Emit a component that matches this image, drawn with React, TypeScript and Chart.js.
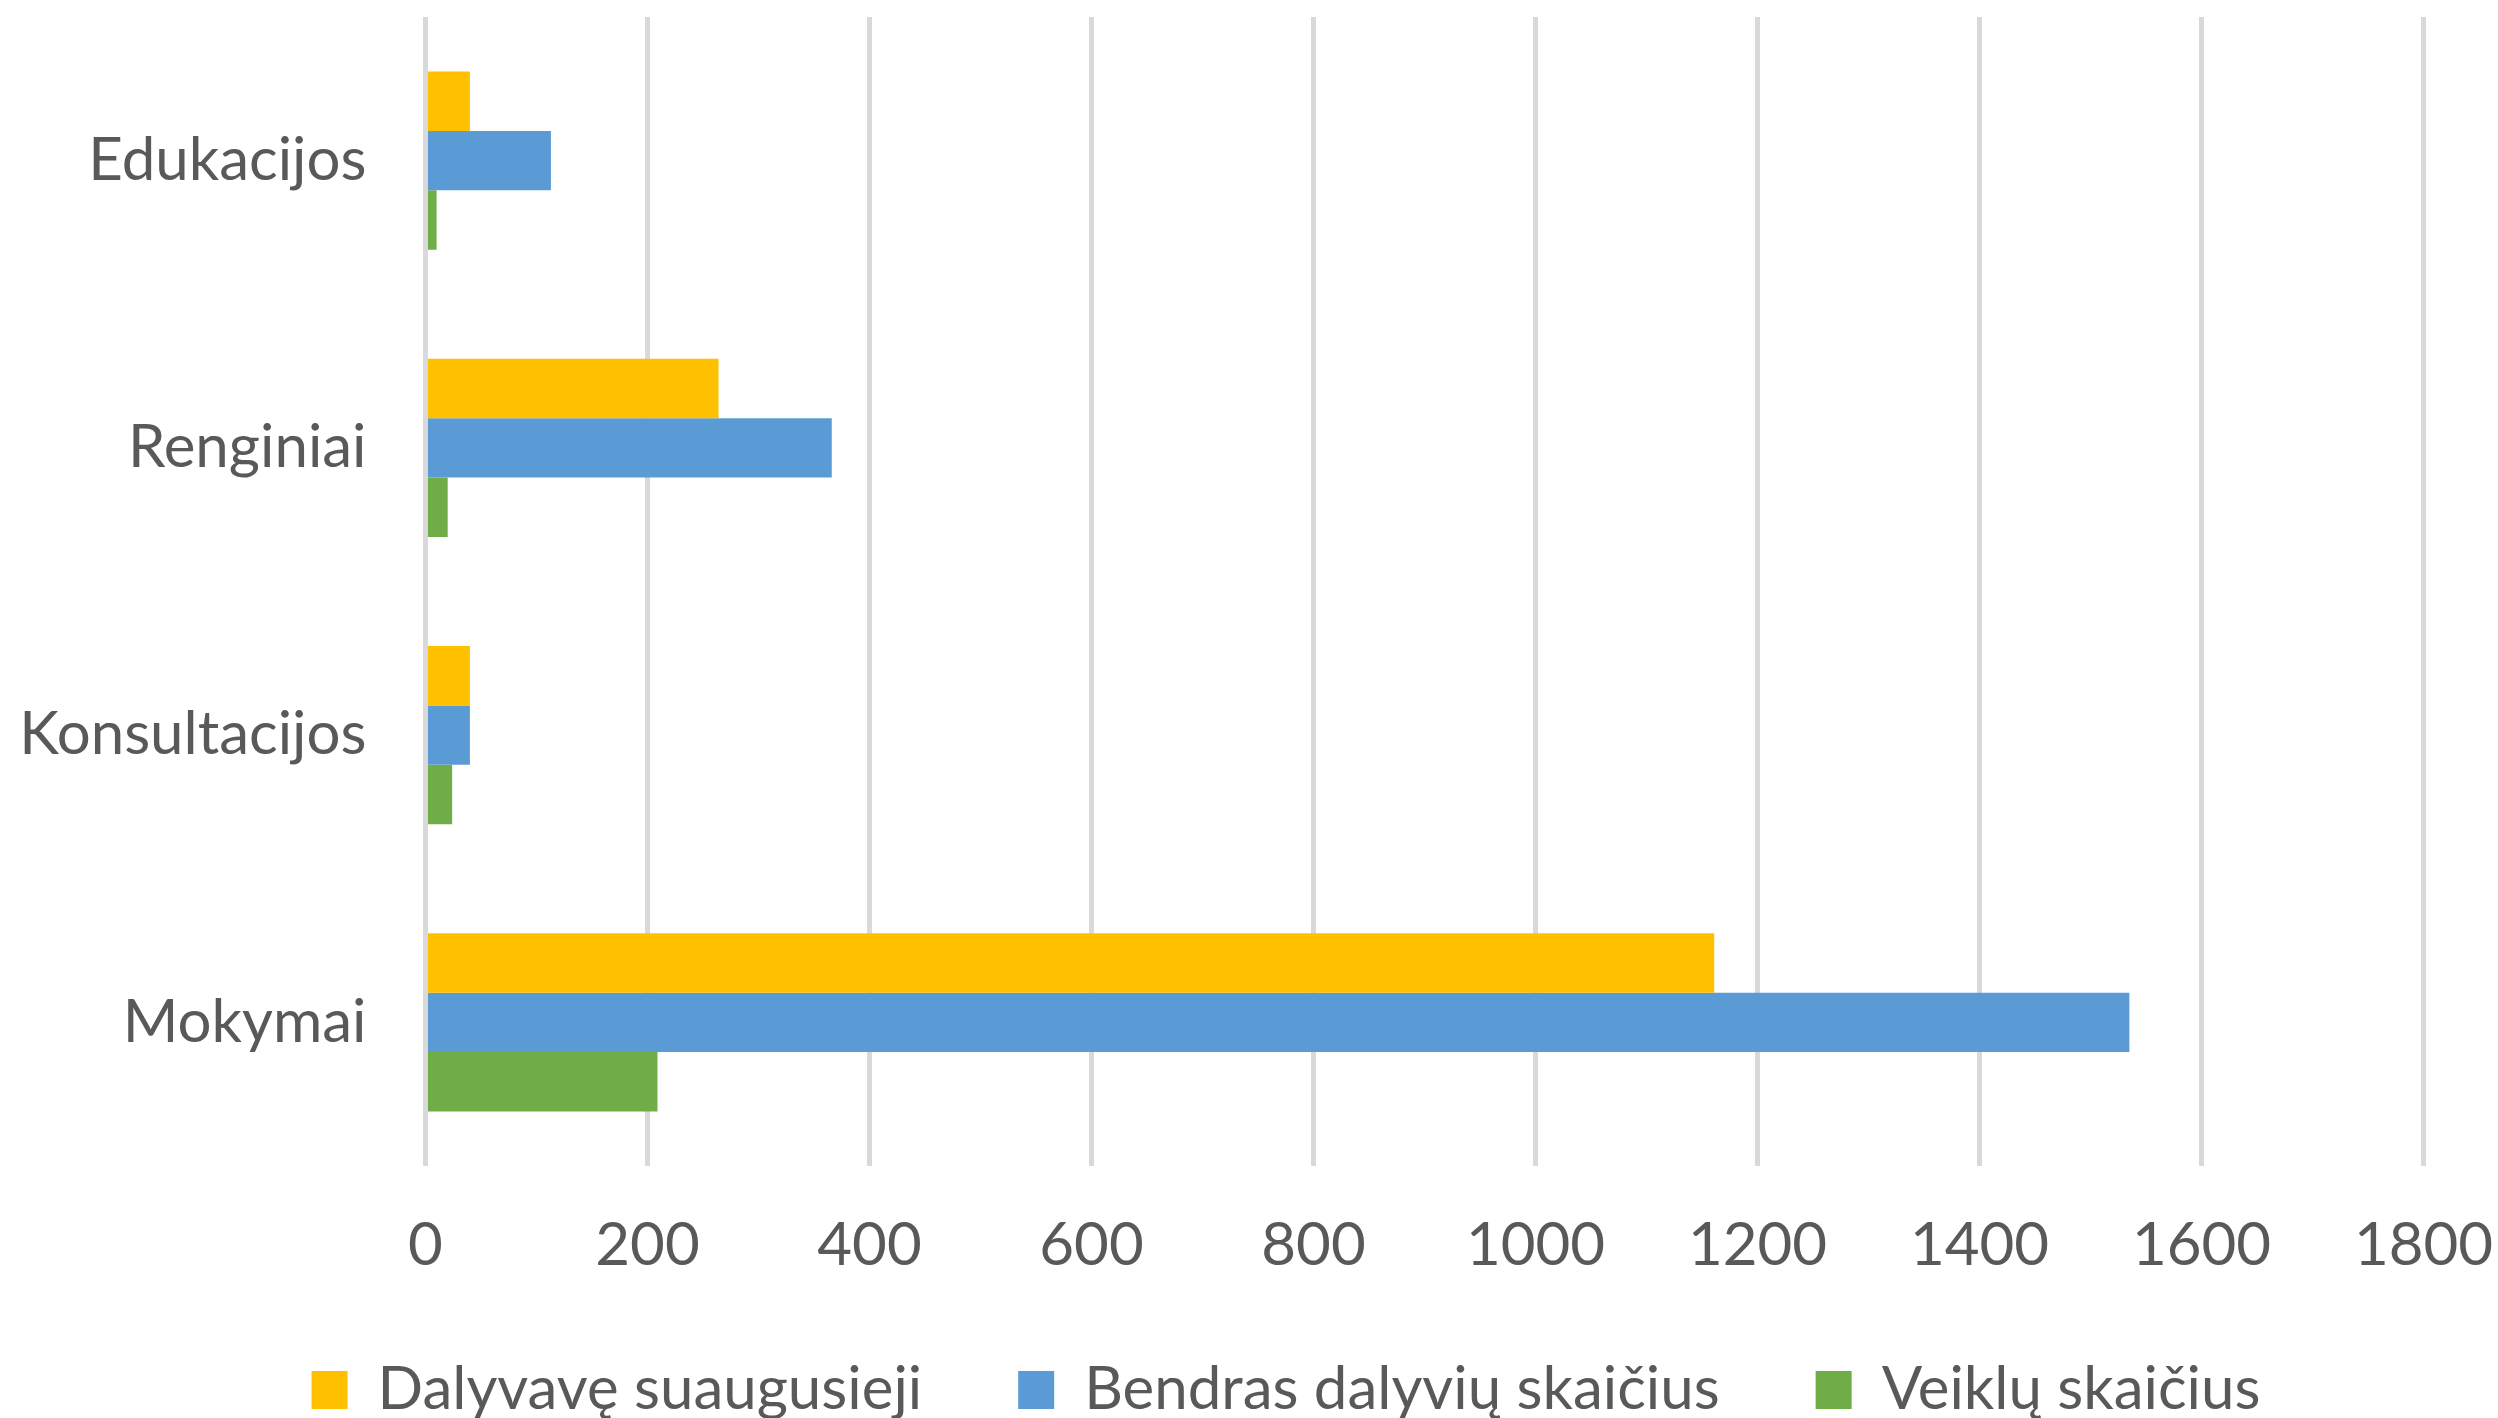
import React, { useEffect, useRef } from "react";
import { Chart, registerables } from "chart.js";

Chart.register(...registerables);

const categories = ["Edukacijos", "Renginiai", "Konsultacijos", "Mokymai"];
const seriesNames = ["Dalyvavę suaugusieji", "Bendras dalyvių skaičius", "Veiklų skaičius"];
const dalyvaveSuaugusieji = [40, 264, 40, 1161];
const bendrasDalyviuSkaicius = [113, 366, 40, 1535];
const veikluSkaicius = [10, 20, 24, 209];
const seriesColors = ["#FFC000", "#5B9BD5", "#70AD47"];
const xMin = 0;
const xMax = 1800;
const xStep = 200;

const TEXT = "#595959";
const FONT = "Lato";
const LEGEND_PAD = 96;

// Place the bottom legend like the original (centred under the whole figure, text at ~y=1390)
const legendPlacement = {
  id: "legendPlacement",
  afterLayout(chart: any) {
    const lg = chart.legend;
    if (!lg) return;
    lg.left = 148.5;
    lg.right = 2423.5;
    lg.width = lg.right - lg.left;
    lg.top = 1360 - LEGEND_PAD;
    lg.bottom = 1418;
    lg.height = lg.bottom - lg.top;
  },
};

export default function App() {
  const ref = useRef<HTMLCanvasElement | null>(null);

  useEffect(() => {
    const canvas = ref.current;
    if (!canvas) return;
    const values = [dalyvaveSuaugusieji, bendrasDalyviuSkaicius, veikluSkaicius];
    const chart = new Chart(canvas, {
      type: "bar",
      data: {
        labels: categories,
        datasets: seriesNames.map((name, i) => ({
          label: name,
          data: values[i],
          backgroundColor: seriesColors[i],
          borderWidth: 0,
          categoryPercentage: 0.62,
          barPercentage: 1,
        })),
      },
      plugins: [legendPlacement],
      options: {
        indexAxis: "y",
        responsive: false,
        animation: false,
        devicePixelRatio: 1,
        layout: { padding: { left: 0, right: 74.5, top: 17, bottom: 0 } },
        plugins: {
          tooltip: { enabled: false },
          title: { display: false },
          legend: {
            position: "bottom",
            align: "center",
            maxHeight: 136,
            labels: {
              boxWidth: 36,
              boxHeight: 38,
              padding: LEGEND_PAD,
              color: TEXT,
              font: { family: FONT, size: 60 },
            },
          },
        },
        scales: {
          x: {
            type: "linear",
            min: xMin,
            max: xMax,
            ticks: {
              stepSize: xStep,
              color: TEXT,
              padding: 44,
              font: { family: FONT, size: 60 },
              callback: (v: any) => String(v),
            },
            grid: { color: "#D9D9D9", lineWidth: 5, drawTicks: false },
            border: { display: false },
            afterFit: (scale: any) => {
              scale.height = 116;
              scale.paddingLeft = 0;
              scale.paddingRight = 0;
            },
          },
          y: {
            type: "category",
            ticks: {
              color: TEXT,
              padding: 59,
              font: { family: FONT, size: 60 },
            },
            grid: { display: false, drawTicks: false },
            border: { display: false },
            afterFit: (scale: any) => {
              scale.width = 425.5;
              scale.paddingTop = 0;
              scale.paddingBottom = 0;
            },
          },
        },
      },
    });
    return () => chart.destroy();
  }, []);

  return (
    <div style={{ position: "fixed", left: 0, top: 0, width: 2498, height: 1418, background: "#fff" }}>
      <canvas ref={ref} width={2498} height={1418} style={{ display: "block", width: 2498, height: 1418 }} />
    </div>
  );
}
